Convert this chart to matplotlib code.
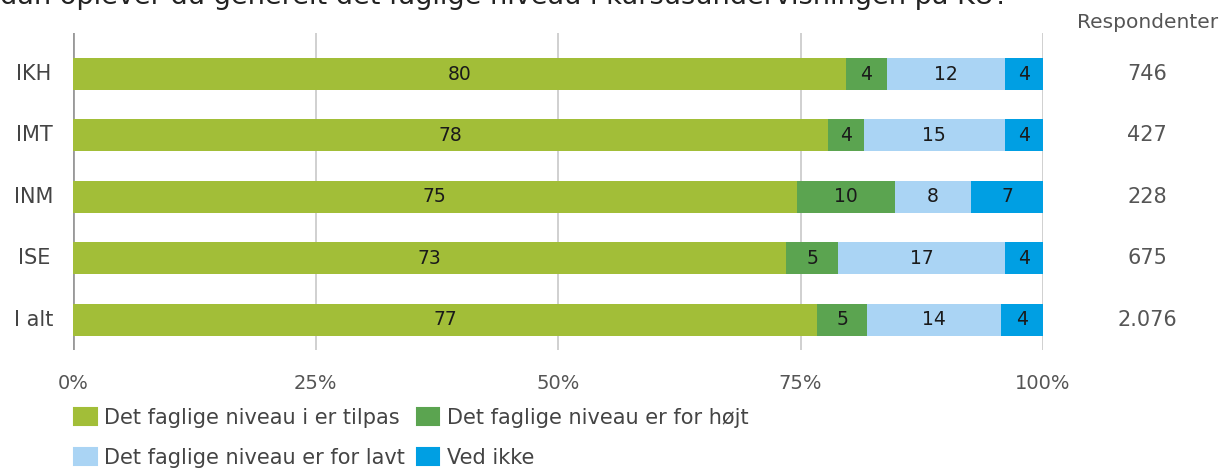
import numpy as np
import matplotlib
matplotlib.use("Agg")
import matplotlib.pyplot as plt
from matplotlib.patches import Patch
from matplotlib.transforms import blended_transform_factory

# Data (shares in %) and printed labels
groups = ["IKH", "IMT", "INM", "ISE", "I alt"]
tilpas = [79.7, 77.8, 74.6, 73.5, 76.7]
hojt = [4.2, 3.7, 10.1, 5.4, 5.2]
lavt = [12.2, 14.6, 7.9, 17.2, 13.8]
ved_ikke = [3.9, 3.9, 7.4, 3.9, 4.3]
lbl_tilpas = ["80", "78", "75", "73", "77"]
lbl_hojt = ["4", "4", "10", "5", "5"]
lbl_lavt = ["12", "15", "8", "17", "14"]
lbl_ved = ["4", "4", "7", "4", "4"]
respondenter = ["746", "427", "228", "675", "2.076"]

series = [tilpas, hojt, lavt, ved_ikke]
labels = [lbl_tilpas, lbl_hojt, lbl_lavt, lbl_ved]
names = ["Det faglige niveau i er tilpas", "Det faglige niveau er for højt",
         "Det faglige niveau er for lavt", "Ved ikke"]
colors = ["#a2be38", "#5ba450", "#aad4f4", "#009fe3"]

FONT = "DejaVu Sans"

fig = plt.figure(figsize=(12.25, 4.68), dpi=100)
ax = fig.add_axes([73/1225, 1-350/468, (1043-73)/1225, (350-33)/468])

y = np.arange(len(groups))
left = np.zeros(len(groups))
for vals, labs, col in zip(series, labels, colors):
    vals = np.array(vals)
    ax.barh(y, vals, left=left, height=0.52, color=col, zorder=3)
    for yi, l, v, t in zip(y, left, vals, labs):
        ax.text(l + v/2, yi, t, ha="center", va="center", fontsize=13.5,
                family=FONT, color="#1a1a1a", zorder=4)
    left += vals

ax.set_xlim(0, 100)
ax.set_ylim(4.49, -0.667)
for s in ax.spines.values():
    s.set_visible(False)
for xv in [0, 25, 50, 75, 100]:
    ax.axvline(xv, color="#999999" if xv == 0 else "#c8c8c8",
               lw=2 if xv == 0 else 1.2, zorder=1)
ax.set_xticks([0, 25, 50, 75, 100])
ax.set_xticklabels(["0%", "25%", "50%", "75%", "100%"], family=FONT,
                   fontsize=14, color="#555555")
ax.tick_params(axis="x", length=0, pad=17)
ax.set_yticks([])

tr = blended_transform_factory(fig.transFigure, ax.transData)
for yi, g, r in zip(y, groups, respondenter):
    ax.text(34/1225, yi, g, transform=tr, ha="center", va="center",
            fontsize=15, family=FONT, color="#444444")
    ax.text(1147/1225, yi, r, transform=tr, ha="center", va="center",
            fontsize=15, family=FONT, color="#555555")

fig.text(1148/1225, 1-22/468, "Respondenter", ha="center", va="center",
         fontsize=14.5, family=FONT, color="#555555")

fig.text(0, 1-4/468,
         "dan oplever du generelt det faglige niveau i kursusundervisningen på KU?",
         ha="left", va="baseline", fontsize=19.5, family=FONT, color="#222222")

# ncol fills column-wise, so reorder to get row-wise reading order
order = [0, 2, 1, 3]
handles = [Patch(facecolor=colors[i], edgecolor=colors[i], linewidth=1.5,
                 joinstyle="round") for i in order]
leg = fig.legend(handles, [names[i] for i in order], ncol=2, loc="upper left",
                 bbox_to_anchor=(74/1225, 1-408/468), frameon=False,
                 borderpad=0, borderaxespad=0,
                 prop={"family": FONT, "size": 15},
                 handlelength=1.1, handleheight=0.9, handletextpad=0.35,
                 columnspacing=0.55, labelspacing=0.95)
for t in leg.get_texts():
    t.set_color("#444444")

fig.savefig("out.png", dpi=100)
